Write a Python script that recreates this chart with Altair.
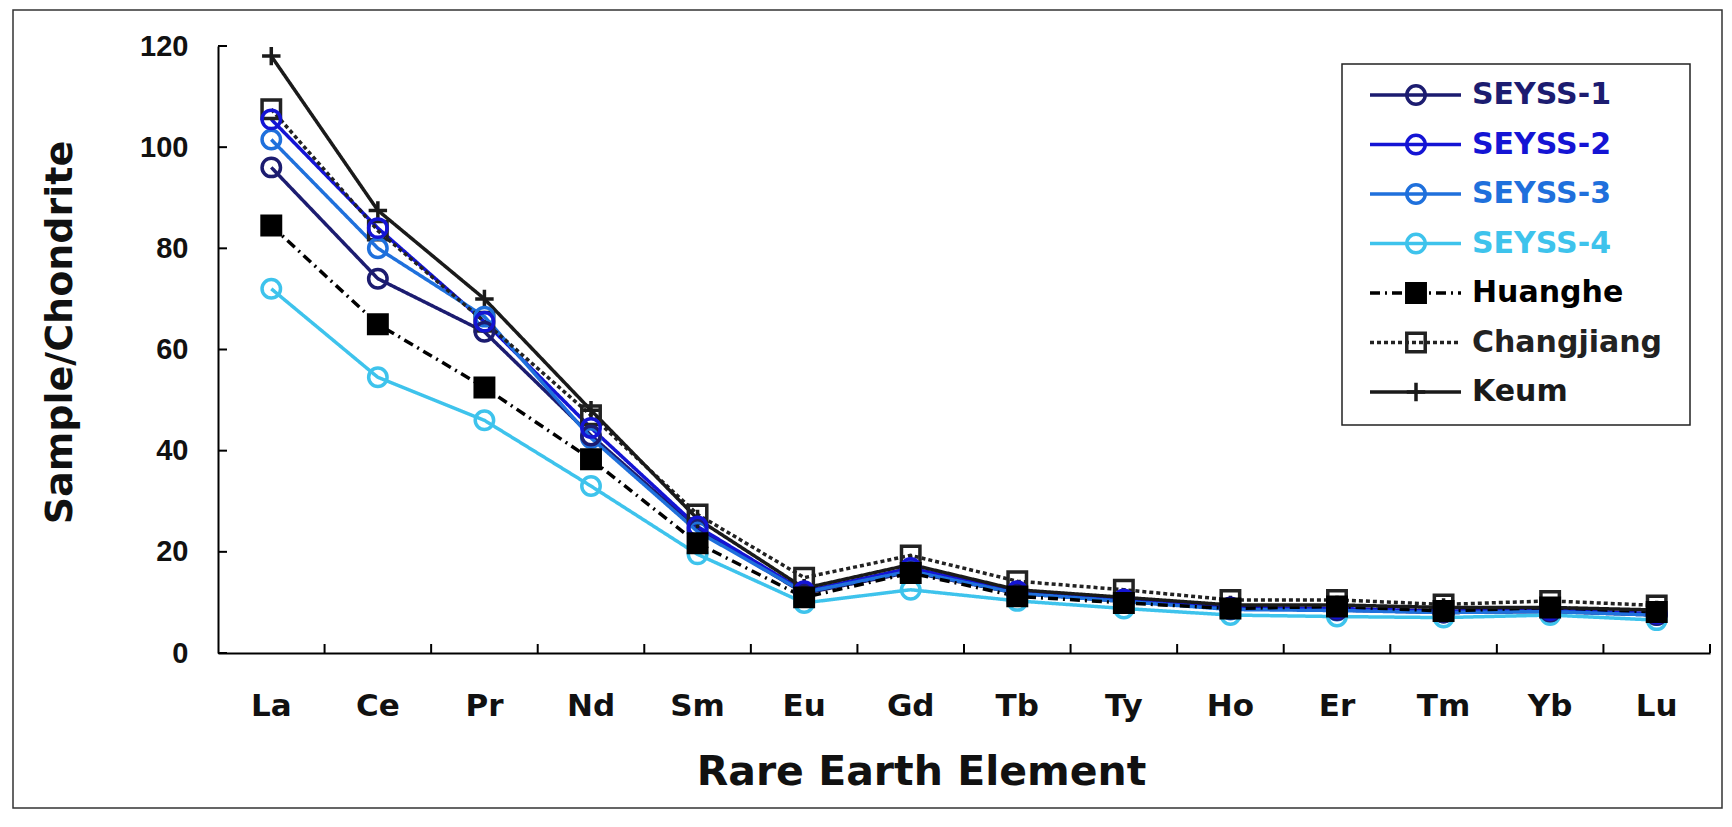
import altair as alt
import pandas as pd

# ---------------- data ----------------
elements = ["La", "Ce", "Pr", "Nd", "Sm", "Eu", "Gd", "Tb", "Ty", "Ho", "Er", "Tm", "Yb", "Lu"]
series_names = ["SEYSS-1", "SEYSS-2", "SEYSS-3", "SEYSS-4", "Huanghe", "Changjiang", "Keum"]

seyss1 = [96.0, 74.0, 63.5, 43.0, 24.5, 11.8, 16.0, 11.8, 10.2, 8.8, 8.5, 8.0, 8.2, 7.5]
seyss2 = [105.5, 84.0, 65.5, 44.5, 25.0, 12.2, 16.8, 12.2, 10.6, 9.0, 8.8, 8.3, 8.5, 7.8]
seyss3 = [101.5, 80.0, 66.5, 42.5, 24.0, 12.0, 16.2, 11.8, 10.2, 8.6, 8.4, 8.0, 8.2, 7.5]
seyss4 = [72.0, 54.5, 46.0, 33.0, 19.5, 9.9, 12.5, 10.3, 8.8, 7.5, 7.2, 7.0, 7.5, 6.5]
huanghe = [84.5, 65.0, 52.5, 38.3, 21.7, 11.0, 15.8, 11.2, 9.9, 8.8, 9.2, 8.3, 9.0, 8.1]
changjiang = [107.5, 83.5, 65.5, 47.0, 27.4, 14.9, 19.3, 14.2, 12.5, 10.5, 10.5, 9.6, 10.3, 9.4]
keum = [118.0, 87.5, 70.0, 48.0, 26.5, 12.8, 17.5, 12.5, 11.0, 9.5, 9.5, 9.0, 9.0, 8.5]

y_tick_values = [0, 20, 40, 60, 80, 100, 120]

series_values = [seyss1, seyss2, seyss3, seyss4, huanghe, changjiang, keum]

# ---------------- styles ----------------
FONT = "DejaVu Sans"
NUM_FONT = "Liberation Sans"
colors = ["#1c1c70", "#1414d4", "#1f70dc", "#3ec3ec", "#000000", "#222222", "#1a1a1a"]
dashes = [[1, 0], [1, 0], [1, 0], [1, 0], [10, 5, 2, 5], [4, 3], [1, 0]]
line_widths = [3.5, 3.5, 3.5, 3.5, 1.8, 1.5, 1.1]
plus_path = "M-1,0L1,0M0,-1L0,1"
shapes = ["circle", "circle", "circle", "circle", "square", "square", plus_path]
fills = ["transparent", "transparent", "transparent", "transparent", "#000000", "transparent", "transparent"]
sizes = [340, 340, 340, 340, 400, 330, 480]
point_widths = [3.0, 3.0, 3.0, 3.0, 1.5, 2.2, 1.6]

W, H = 1492, 607

rows = []
for name, vals in zip(series_names, series_values):
    for el, v in zip(elements, vals):
        rows.append({"name": name, "element": el, "value": v})
df = pd.DataFrame(rows)

draw_order = ["Keum", "Changjiang", "SEYSS-4", "SEYSS-3", "SEYSS-1", "SEYSS-2", "Huanghe"]
df_points = pd.concat([df[df["name"] == n] for n in draw_order], ignore_index=True)

color_scale = alt.Scale(domain=series_names, range=colors)
dash_scale = alt.Scale(domain=series_names, range=dashes)
lw_scale = alt.Scale(domain=series_names, range=line_widths)
shape_scale = alt.Scale(domain=series_names, range=shapes)
fill_scale = alt.Scale(domain=series_names, range=fills)
size_scale = alt.Scale(domain=series_names, range=sizes)
pw_scale = alt.Scale(domain=series_names, range=point_widths)

x_scale = alt.Scale(type="band", domain=elements, paddingInner=0, paddingOuter=0)
x_axis = alt.Axis(
    title="Rare Earth Element", labelAngle=0, ticks=False, tickSize=0, grid=False,
    domainColor="#000000", domainWidth=2,
    labelFont=FONT, labelFontSize=31, labelFontWeight="bold", labelColor="#111111",
    labelPadding=38,
    titleFont=FONT, titleFontSize=41, titleFontWeight="bold", titleColor="#111111",
    titleX=703, titleY=131, titleBaseline="alphabetic",
)
y_scale = alt.Scale(domain=[0, 120], nice=False, zero=True)
y_axis = alt.Axis(
    values=y_tick_values, ticks=False, tickSize=0, grid=False,
    domainColor="#000000", domainWidth=2,
    labelFont=NUM_FONT, labelFontSize=29, labelFontWeight="bold", labelColor="#111111",
    labelPadding=30,
    title="Sample/Chondrite", titleFont=FONT, titleFontSize=38, titleFontWeight="bold",
    titleColor="#111111", titleAngle=270, titleX=-147, titleY=286, titleBaseline="alphabetic",
)

x_enc = alt.X("element:N", sort=elements, scale=x_scale, bandPosition=0.5, axis=x_axis)
y_enc = alt.Y("value:Q", scale=y_scale, axis=y_axis)

lines = alt.Chart(df).mark_line().encode(
    x=x_enc,
    y=y_enc,
    color=alt.Color("name:N", scale=color_scale, legend=None),
    strokeDash=alt.StrokeDash("name:N", scale=dash_scale, legend=None),
    strokeWidth=alt.StrokeWidth("name:N", scale=lw_scale, legend=None),
    detail="name:N",
)

points = alt.Chart(df_points).mark_point(filled=False, opacity=1).encode(
    x=x_enc,
    y=y_enc,
    stroke=alt.Stroke("name:N", scale=color_scale, legend=None),
    fill=alt.Fill("name:N", scale=fill_scale, legend=None),
    shape=alt.Shape("name:N", scale=shape_scale, legend=None),
    size=alt.Size("name:N", scale=size_scale, legend=None),
    strokeWidth=alt.StrokeWidth("name:N", scale=pw_scale, legend=None),
)

# inward ticks
ytick_df = pd.DataFrame({"value": y_tick_values})
y_ticks = alt.Chart(ytick_df).mark_rule(color="#000000", strokeWidth=2).encode(
    x=alt.value(0), x2=alt.value(9), y=y_enc
)
xtick_df = pd.DataFrame({"element": elements})
x_ticks = alt.Chart(xtick_df).mark_rule(color="#000000", strokeWidth=2).encode(
    x=alt.X("element:N", sort=elements, scale=x_scale, bandPosition=1, axis=x_axis),
    y=alt.value(H), y2=alt.value(H - 9),
)

main = alt.layer(lines, points, y_ticks, x_ticks)

# ---------------- legend ----------------
leg_df = pd.DataFrame({"name": series_names})
leg_y = alt.Y("name:N", scale=alt.Scale(type="point", domain=series_names, range=[49, 346], padding=0),
              axis=None)

leg_box = alt.Chart(alt.Data(values=[{"k": 1}])).mark_rect(
    fill="#ffffff", stroke="#222222", strokeWidth=1.5
).encode(x=alt.value(1124), x2=alt.value(1472), y=alt.value(18), y2=alt.value(379))

leg_lines = alt.Chart(leg_df).mark_rule().encode(
    x=alt.value(1152), x2=alt.value(1243), y=leg_y,
    color=alt.Color("name:N", scale=color_scale, legend=None),
    strokeDash=alt.StrokeDash("name:N", scale=dash_scale, legend=None),
    strokeWidth=alt.StrokeWidth("name:N", scale=lw_scale, legend=None),
)
leg_points = alt.Chart(leg_df).mark_point(filled=False, opacity=1).encode(
    x=alt.value(1198), y=leg_y,
    stroke=alt.Stroke("name:N", scale=color_scale, legend=None),
    fill=alt.Fill("name:N", scale=fill_scale, legend=None),
    shape=alt.Shape("name:N", scale=shape_scale, legend=None),
    size=alt.Size("name:N", scale=size_scale, legend=None),
    strokeWidth=alt.StrokeWidth("name:N", scale=pw_scale, legend=None),
)
leg_text = alt.Chart(leg_df).mark_text(
    align="left", baseline="middle", font=FONT, fontSize=30, fontWeight="bold"
).encode(
    x=alt.value(1254), y=leg_y, text="name:N",
    color=alt.Color("name:N", scale=color_scale, legend=None),
)
legend = alt.layer(leg_box, leg_lines, leg_points, leg_text)

frame = alt.Chart(alt.Data(values=[{"k": 1}])).mark_rect(
    fillOpacity=0, stroke="#333333", strokeWidth=1.5
).encode(x=alt.value(-205), x2=alt.value(1504), y=alt.value(-36), y2=alt.value(762))

chart = alt.layer(main, legend, frame).resolve_scale(y="independent").properties(
    width=W, height=H,
    padding={"left": 210, "top": 38, "right": 14, "bottom": 163},
    autosize=alt.AutoSizeParams(type="none"),
    background="#ffffff",
).configure_view(stroke=None)

chart.save("out.html", embed_options={"renderer": "svg", "actions": False})
